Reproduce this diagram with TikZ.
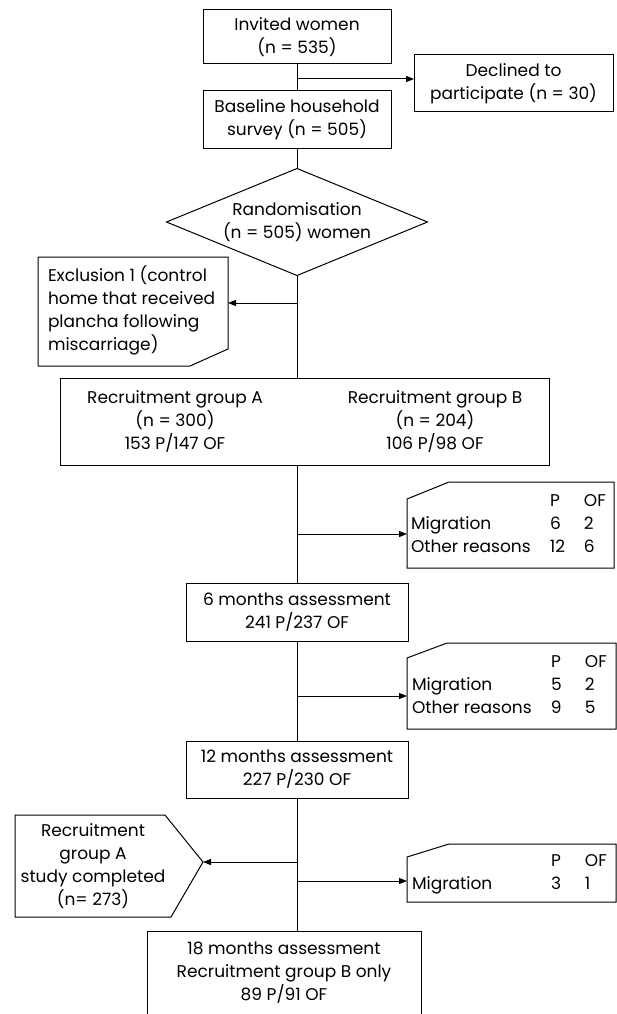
\documentclass[tikz,border=0pt]{standalone}
\usepackage{fontspec}
\setmainfont{Poppins}
\usepackage{array}
\usetikzlibrary{arrows.meta,calc}
\newcommand{\rtab}[1]{\begin{tabular}{@{\hspace{4pt}}p{139pt}@{}p{34pt}@{}p{30pt}@{}}#1\end{tabular}}
\begin{document}
\begin{tikzpicture}[x=1pt,y=-1pt,
  every node/.style={inner sep=0pt, outer sep=0pt},
  txt/.style={font=\fontsize{17}{23}\selectfont, align=center},
  boxn/.style={txt, draw, line width=1pt},
  ghost/.style={txt},
  ln/.style={line width=1pt, line join=miter},
  arr/.style={ln, -{Triangle[length=8pt,width=6pt]}}]
\useasboundingbox (0,0) rectangle (617,1014);

% boxes
\node[boxn, minimum width=188pt, minimum height=54pt] (inv) at (297,37) {Invited women\\(n = 535)};
\node[boxn, minimum width=199pt, minimum height=57pt] (decl) at (513.5,83.5) {Declined to\\participate (n = 30)};
\node[boxn, minimum width=188pt, minimum height=57pt] (base) at (297,119.5) {Baseline household\\survey (n = 505)};
\node[ghost, minimum width=261pt, minimum height=107pt] (dia) at (297,222) {Randomisation\\(n = 505) women};
\draw[ln] (dia.north) -- (dia.east) -- (dia.south) -- (dia.west) -- cycle;

\node[ghost, minimum width=190pt, minimum height=109pt] (excl) at (133,311.5)
  {\makebox[170pt][l]{\begin{tabular}{@{}l@{}}Exclusion 1 (control\\home that received\\plancha following\\miscarriage)\end{tabular}}};
\draw[ln] (excl.north west) -- (excl.north east) -- ($(excl.north east)+(0,92)$)
  -- ($(excl.south east)+(-38,0)$) -- (excl.south west) -- cycle;

\node[boxn, minimum width=489pt, minimum height=87pt] (rec) at (304.5,421.5)
  {\begin{tabular}{@{}>{\centering\arraybackslash}p{230pt}@{\hspace{31pt}}>{\centering\arraybackslash}p{228pt}@{}}
   Recruitment group A & Recruitment group B\\
   (n = 300) & (n = 204)\\
   153 P/147 OF & 106 P/98 OF
   \end{tabular}};

\node[ghost, minimum width=207pt, minimum height=86pt] (r1) at (510.5,525)
  {\rtab{ & P & OF\\ Migration & 6 & 2\\ Other reasons & 12 & 6}};
\draw[ln] ($(r1.north west)+(42,0)$) -- (r1.north east) -- (r1.south east) -- (r1.south west)
  -- ($(r1.north west)+(0,17)$) -- cycle;

\node[boxn, minimum width=222pt, minimum height=58pt] (m6) at (297,612) {6 months assessment\\241 P/237 OF};

\node[ghost, minimum width=209pt, minimum height=86pt] (r2) at (511.5,686)
  {\rtab{ & P & OF\\ Migration & 5 & 2\\ Other reasons & 9 & 5}};
\draw[ln] ($(r2.north west)+(40,0)$) -- (r2.north east) -- (r2.south east) -- (r2.south west)
  -- ($(r2.north west)+(0,15)$) -- cycle;

\node[boxn, minimum width=222pt, minimum height=57pt] (m12) at (297,769.5) {12 months assessment\\227 P/230 OF};

\node[ghost, minimum width=156pt, minimum height=102pt] (pent) at (93,866)
  {Recruitment\\group A\\study completed\\(n= 273)};
\coordinate (ptip) at ($(pent.east)+(32,-4)$);
\draw[ln] (pent.north west) -- ($(pent.north east)+(-6,0)$) -- (ptip) -- (pent.south east)
  -- (pent.south west) -- cycle;

\node[ghost, minimum width=209pt, minimum height=58pt] (r3) at (511.5,873)
  {\rtab{ & P & OF\\ Migration & 3 & 1}};
\draw[ln] ($(r3.north west)+(42,0)$) -- (r3.north east) -- (r3.south east) -- (r3.south west)
  -- ($(r3.north west)+(0,13)$) -- cycle;

\node[ghost, minimum width=274pt, minimum height=83pt] (m18) at (284,972.5)
  {18 months assessment\\Recruitment group B only\\89 P/91 OF};
\draw[ln] (m18.south west) -- (m18.north west) -- (m18.north east) -- (m18.south east);

% connectors
\coordinate (j0) at (297,79);
\coordinate (j1) at (297,303);
\coordinate (j2) at (297,534);
\coordinate (j3) at (297,696);
\coordinate (j4) at (297,862);
\coordinate (j5) at (297,881);
\draw[ln] (inv.south) -- (base.north);
\draw[arr] (j0) -- (j0 -| decl.west);
\draw[ln] (base.south) -- (dia.north);
\draw[ln] (dia.south) -- (dia.south |- rec.north);
\draw[arr] (j1) -- (j1 -| excl.east);
\draw[ln] (m6.north |- rec.south) -- (m6.north);
\draw[arr] (j2) -- (j2 -| r1.west);
\draw[ln] (m6.south) -- (m12.north);
\draw[arr] (j3) -- (j3 -| r2.west);
\draw[ln] (m12.south) -- (m12.south |- m18.north);
\draw[arr] (j4) -- (ptip);
\draw[arr] (j5) -- (j5 -| r3.west);
\end{tikzpicture}
\end{document}
